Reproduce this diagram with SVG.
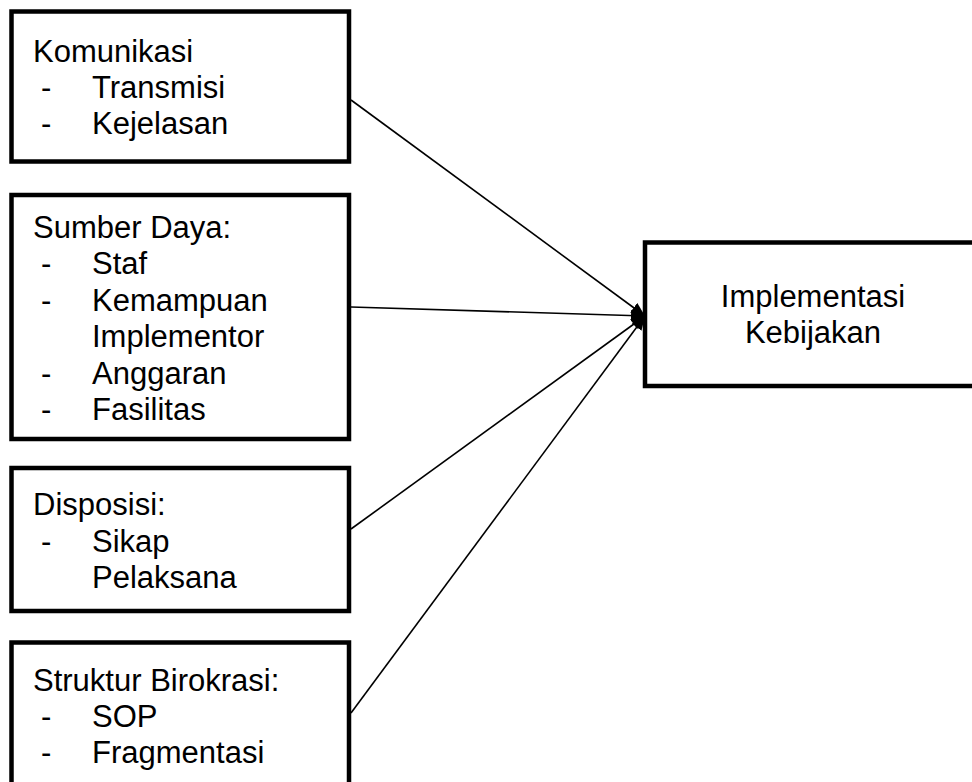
<svg xmlns="http://www.w3.org/2000/svg" width="972" height="782" viewBox="0 0 972 782">
<style>
.box{fill:#fff;stroke:#000;stroke-width:4.5}
.t{font-family:"Liberation Sans",Arial,sans-serif;font-size:31px;fill:#000}
.c{stroke:#000;stroke-width:1.6;fill:none;marker-end:url(#ah)}
</style>
<defs>
<marker id="ah" markerUnits="userSpaceOnUse" markerWidth="16" markerHeight="12" refX="14" refY="6" orient="auto">
<path d="M0,0 L14,6 L0,12 Z" fill="#000"/>
</marker>
</defs>
<rect width="972" height="782" fill="#fff"/>
<g id="connectors">
<line class="c" x1="351" y1="100" x2="645" y2="316"/>
<line class="c" x1="351" y1="307" x2="645" y2="316"/>
<line class="c" x1="351" y1="529" x2="645" y2="316"/>
<line class="c" x1="351" y1="713" x2="645" y2="316"/>
</g>
<g id="komunikasi">
<rect class="box" x="11.5" y="11.5" width="337.5" height="150"/>
<text class="t" x="33" y="62">Komunikasi</text>
<text class="t" x="41" y="98">-</text><text class="t" x="92" y="98">Transmisi</text>
<text class="t" x="41" y="134">-</text><text class="t" x="92" y="134">Kejelasan</text>
</g>
<g id="sumber-daya">
<rect class="box" x="11.5" y="195" width="337.5" height="244"/>
<text class="t" x="33" y="238">Sumber Daya:</text>
<text class="t" x="41" y="274">-</text><text class="t" x="92" y="274">Staf</text>
<text class="t" x="41" y="311">-</text><text class="t" x="92" y="311">Kemampuan</text>
<text class="t" x="92" y="347">Implementor</text>
<text class="t" x="41" y="384">-</text><text class="t" x="92" y="384">Anggaran</text>
<text class="t" x="41" y="420">-</text><text class="t" x="92" y="420">Fasilitas</text>
</g>
<g id="disposisi">
<rect class="box" x="11.5" y="468" width="337.5" height="143"/>
<text class="t" x="33" y="515">Disposisi:</text>
<text class="t" x="41" y="552">-</text><text class="t" x="92" y="552">Sikap</text>
<text class="t" x="92" y="588">Pelaksana</text>
</g>
<g id="struktur-birokrasi">
<rect class="box" x="11.5" y="642.5" width="337.5" height="160"/>
<text class="t" x="33" y="691">Struktur Birokrasi:</text>
<text class="t" x="41" y="727">-</text><text class="t" x="92" y="727">SOP</text>
<text class="t" x="41" y="763">-</text><text class="t" x="92" y="763">Fragmentasi</text>
</g>
<g id="implementasi">
<rect class="box" x="645" y="242.5" width="340" height="143.5"/>
<text class="t" x="813" y="307" text-anchor="middle">Implementasi</text>
<text class="t" x="813" y="343" text-anchor="middle">Kebijakan</text>
</g>
</svg>
